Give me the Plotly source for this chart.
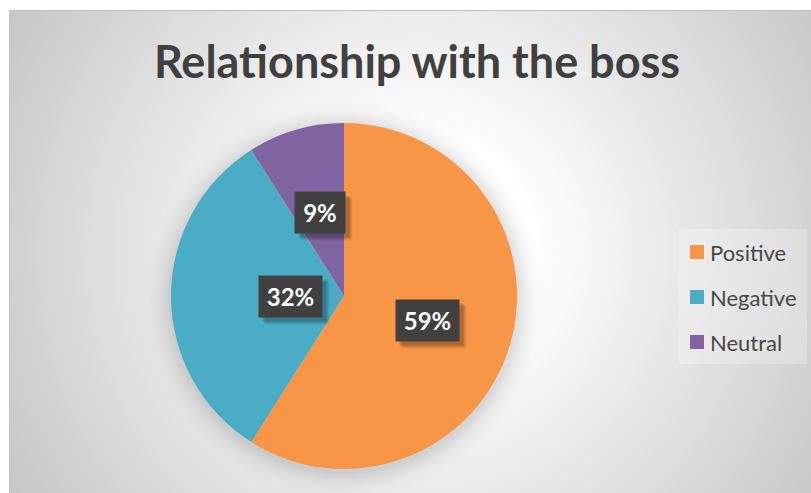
import base64
import math
import struct
import zlib

import numpy as np
import plotly.graph_objects as go

# ---- data -------------------------------------------------------------
labels = ["Positive", "Negative", "Neutral"]
values = [59, 32, 9]
colors = ["#F79646", "#4BACC6", "#8064A2"]
title_text = "Relationship with the boss"

# ---- canvas / geometry ------------------------------------------------
W, H = 811, 493
frame_x0, frame_y0 = 9, 10          # chart frame (white margin above / left)
pie_cx, pie_cy, pie_r = 344, 296, 173  # pixel geometry of the pie
label_frac = 0.5                    # data labels sit halfway out the radius


def px_to_paper(x, y):
    return x / W, 1 - y / H


def png_data_uri(gray):
    """Encode a 2-D uint8 array as a grayscale PNG data URI."""
    h, w = gray.shape
    raw = b"".join(b"\x00" + gray[i].tobytes() for i in range(h))

    def chunk(tag, data):
        c = struct.pack(">I", len(data)) + tag + data
        return c + struct.pack(">I", zlib.crc32(tag + data) & 0xFFFFFFFF)

    png = b"\x89PNG\r\n\x1a\n"
    png += chunk(b"IHDR", struct.pack(">IIBBBBB", w, h, 8, 0, 0, 0, 0))
    png += chunk(b"IDAT", zlib.compress(raw, 9))
    png += chunk(b"IEND", b"")
    return "data:image/png;base64," + base64.b64encode(png).decode()


# radial grey-to-white backdrop with a soft halo under the pie
fw, fh = W - frame_x0, H - frame_y0
yy, xx = np.mgrid[0:fh, 0:fw].astype(float)
xx += frame_x0
yy += frame_y0
gcx, gcy = 420, 250
dist = np.hypot(xx - gcx, yy - gcy)
bg = 255 - np.clip(dist - 110, 0, None) * 0.155
bg = np.clip(bg, 190, 255)

edge = np.hypot(xx - pie_cx, yy - (pie_cy + 3)) - pie_r
halo = np.where(edge > 0, np.clip(1 - edge / 30, 0, 1) ** 2, 1.0)
bg = bg * (1 - 0.13 * halo)

img = np.round(bg).astype(np.uint8)
img[0, :] = 190
img[:, 0] = 195
bg_uri = png_data_uri(img)

# ---- figure -----------------------------------------------------------
dx0, dy1 = px_to_paper(pie_cx - pie_r, pie_cy - pie_r)
dx1, dy0 = px_to_paper(pie_cx + pie_r, pie_cy + pie_r)

fig = go.Figure(
    go.Pie(
        labels=labels,
        values=values,
        marker=dict(colors=colors, line=dict(width=0)),
        sort=False,
        direction="clockwise",
        rotation=0,
        textinfo="none",
        hoverinfo="label+percent",
        showlegend=False,
        domain=dict(x=[dx0, dx1], y=[dy0, dy1]),
    )
)

annotations = []
shapes = []

# percentage labels, placed from each slice's mid-angle
total = sum(values)
cum = 0
for lab, v in zip(labels, values):
    mid = (cum + v / 2) / total * 2 * math.pi
    cum += v
    lx = pie_cx + label_frac * pie_r * math.sin(mid)
    ly = pie_cy - label_frac * pie_r * math.cos(mid)
    ax, ay = px_to_paper(lx, ly)
    pct = f"{round(v / total * 100)}%"
    box_w, box_h = 13 * len(pct) + 24, 41
    # soft drop shadow made of stacked translucent boxes
    for s, a in [(7, 0.05), (6, 0.07), (5, 0.09), (4, 0.11)]:
        annotations.append(dict(
            x=ax, y=ay, xref="paper", yref="paper", showarrow=False,
            text="\u00a0", width=box_w, height=box_h, xshift=s, yshift=-s,
            font=dict(family="Lato", size=24),
            bgcolor=f"rgba(0,0,0,{a})", borderpad=0,
        ))
    annotations.append(dict(
        x=ax, y=ay, xref="paper", yref="paper", showarrow=False,
        text=pct, width=box_w, height=box_h, align="center", valign="middle",
        font=dict(family="Lato", size=24, color="white", weight="bold"),
        bgcolor="#404040", borderpad=0,
    ))

# legend panel with swatches
shapes.append(dict(
    type="rect", xref="paper", yref="paper", layer="below",
    x0=678 / W, x1=807 / W, y0=1 - 364 / H, y1=1 - 229 / H,
    fillcolor="rgba(255,255,255,0.25)", line=dict(width=0),
))
leg_top, leg_step = 252, 45
for i, (lab, c) in enumerate(zip(labels, colors)):
    cy = leg_top + i * leg_step
    shapes.append(dict(
        type="rect", xref="paper", yref="paper",
        x0=690 / W, x1=704 / W, y0=1 - (cy + 7) / H, y1=1 - (cy - 7) / H,
        fillcolor=c, line=dict(width=0),
    ))
    annotations.append(dict(
        x=708 / W, y=1 - cy / H, xref="paper", yref="paper",
        xanchor="left", yanchor="middle", showarrow=False,
        text=lab, font=dict(family="Lato", size=22, color="#474747"),
    ))

fig.update_layout(
    width=W,
    height=H,
    margin=dict(l=0, r=0, t=0, b=0),
    paper_bgcolor="white",
    plot_bgcolor="rgba(0,0,0,0)",
    showlegend=False,
    title=dict(
        text=title_text,
        x=417 / W, xanchor="center",
        y=1 - 62 / H, yanchor="middle", yref="container",
        font=dict(family="Lato", size=45, color="#404040", weight="bold"),
    ),
    images=[dict(
        source=bg_uri, xref="paper", yref="paper",
        x=frame_x0 / W, y=1 - frame_y0 / H,
        sizex=fw / W, sizey=fh / H,
        xanchor="left", yanchor="top", sizing="stretch", layer="below",
    )],
    shapes=shapes,
    annotations=annotations,
)

fig.write_html("out.html")
